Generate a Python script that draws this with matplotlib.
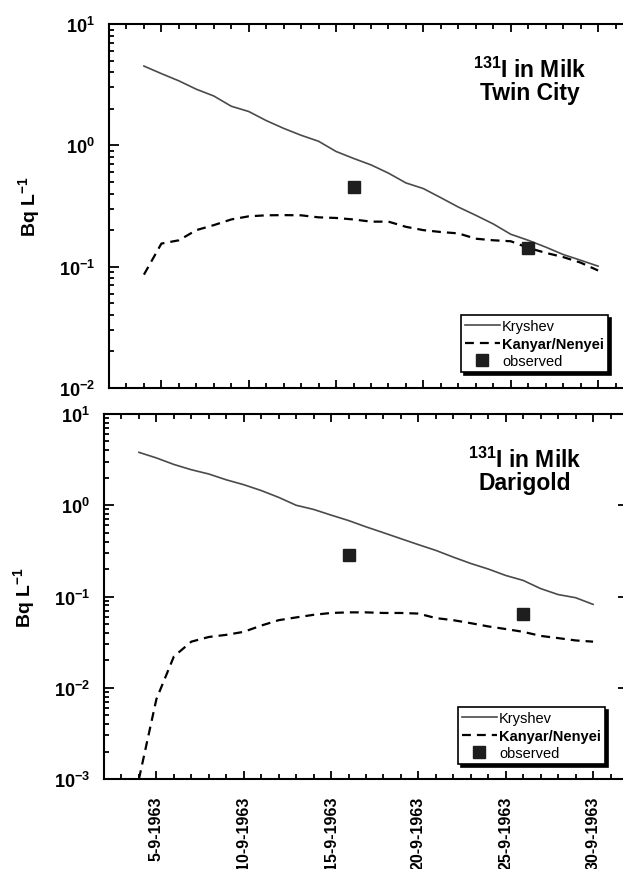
import datetime as dt
import numpy as np
import matplotlib
matplotlib.use('Agg')
import matplotlib.pyplot as plt
import matplotlib.dates as mdates
from matplotlib.ticker import LogLocator, FuncFormatter, NullFormatter

plt.rcParams['font.family'] = 'Liberation Sans'
plt.rcParams['font.weight'] = 'bold'
plt.rcParams['mathtext.fontset'] = 'custom'
plt.rcParams['mathtext.rm'] = 'Liberation Sans:bold'
plt.rcParams['mathtext.it'] = 'Liberation Sans:bold'
plt.rcParams['mathtext.bf'] = 'Liberation Sans:bold'

# day of September 1963
dias = [4, 5, 6, 7, 8, 9, 10, 11, 12, 13, 14, 15, 16, 17, 18, 19, 20,
        21, 22, 23, 24, 25, 26, 27, 28, 29, 30]

# Twin City
kryshev_tc = [4.5, 3.9, 3.4, 2.9, 2.55, 2.1, 1.9, 1.6, 1.38, 1.21, 1.08, 0.89,
              0.78, 0.69, 0.59, 0.49, 0.44, 0.37, 0.31, 0.265, 0.225, 0.185,
              0.165, 0.145, 0.126, 0.113, 0.101]
kanyar_tc = [0.086, 0.155, 0.165, 0.20, 0.22, 0.245, 0.26, 0.265, 0.266, 0.265,
             0.255, 0.252, 0.245, 0.235, 0.235, 0.213, 0.20, 0.193, 0.188, 0.17,
             0.165, 0.162, 0.143, 0.13, 0.12, 0.108, 0.093]
obs_dias_tc = [16, 26]
obs_tc = [0.45, 0.142]

# Darigold
kryshev_dg = [3.8, 3.3, 2.8, 2.45, 2.2, 1.9, 1.68, 1.45, 1.22, 1.0, 0.9, 0.78,
              0.68, 0.58, 0.5, 0.43, 0.37, 0.32, 0.27, 0.23, 0.2, 0.17, 0.15,
              0.122, 0.105, 0.097, 0.082]
kanyar_dg = [0.001, 0.0075, 0.022, 0.032, 0.036, 0.038, 0.041, 0.048, 0.055,
             0.059, 0.063, 0.066, 0.067, 0.067, 0.066, 0.066, 0.065, 0.058,
             0.055, 0.051, 0.047, 0.044, 0.041, 0.037, 0.035, 0.033, 0.032]
obs_dias_dg = [16, 26]
obs_dg = [0.288, 0.0645]

rotulos = ['Kryshev', 'Kanyar/Nenyei', 'observed']


def datas(lista):
    return [dt.datetime(1963, 9, d) for d in lista]


def fmt_data(x, pos):
    d = mdates.num2date(x)
    return '%d-%d-%d' % (d.day, d.month, d.year)


def fmt_log(v, pos):
    return '$10^{%d}$' % int(round(np.log10(v)))


def painel(fig, pos, kry, kan, od, ov, ymin, titulo, ancora, rotular_x):
    ax = fig.add_axes(pos)
    l1, = ax.plot(datas(dias), kry, color='#4a4a4a', lw=1.2)
    l2, = ax.plot(datas(dias), kan, color='k', lw=1.6, dashes=(4, 2.7))
    l3, = ax.plot(datas(od), ov, ls='none', marker='s', ms=8.5,
                  color='#1e1e1e')

    ax.set_yscale('log')
    ax.set_ylim(ymin, 10)
    ax.set_xlim(dt.datetime(1963, 9, 2), dt.datetime(1963, 10, 2))

    ax.xaxis.set_major_locator(mdates.DayLocator(bymonthday=[5, 10, 15, 20, 25, 30]))
    ax.xaxis.set_minor_locator(mdates.DayLocator(interval=1))
    ax.xaxis.set_major_formatter(FuncFormatter(fmt_data))
    ax.yaxis.set_major_locator(LogLocator(base=10))
    ax.yaxis.set_minor_locator(LogLocator(base=10, subs=range(2, 10)))
    ax.yaxis.set_major_formatter(FuncFormatter(fmt_log))
    ax.yaxis.set_minor_formatter(NullFormatter())

    ax.tick_params(which='both', direction='in', top=True, right=True, width=1.3)
    ax.tick_params(axis='x', which='major', length=6)
    ax.tick_params(axis='x', which='minor', length=3.5)
    ax.tick_params(axis='y', which='major', length=7, labelsize=13, pad=10)
    ax.tick_params(axis='y', which='minor', length=3.5)
    if rotular_x:
        ax.tick_params(axis='x', labelsize=11.5, labelrotation=90, pad=12)
    else:
        ax.tick_params(axis='x', labelbottom=False)

    for s in ax.spines.values():
        s.set_linewidth(1.5)

    ax.set_ylabel('Bq L$^{-1}$', fontsize=14, fontweight='bold')
    ax.yaxis.set_label_coords(-0.127, 0.5)

    # two-line title, anchored at the baseline of the second line
    ax.text(0.803, 1 - (100 - 25) / 364, '$^{131}$I in Milk\n' + titulo,
            transform=ax.transAxes, ha='center', va='baseline',
            multialignment='center', linespacing=0.95,
            fontsize=16.5, fontweight='bold')

    leg = ax.legend([l1, l2, l3], rotulos, loc='lower right',
                    bbox_to_anchor=ancora, bbox_transform=fig.transFigure,
                    borderaxespad=0, fancybox=False,
                    shadow={'color': 'k', 'alpha': 1}, edgecolor='k',
                    framealpha=1, prop={'size': 10.5, 'weight': 'normal'},
                    handlelength=2.4, handletextpad=0.15, labelspacing=0.22,
                    borderpad=0.28, numpoints=1)
    leg.get_frame().set_linewidth(1.2)
    leg.get_texts()[1].set_fontweight('bold')
    return ax


def main():
    fig = plt.figure(figsize=(6.23, 8.70), dpi=100)

    painel(fig, [109 / 623, 1 - 389 / 870, 524 / 623, 364 / 870],
           kryshev_tc, kanyar_tc, obs_dias_tc, obs_tc, 1e-2, 'Twin City',
           (608 / 623, 1 - 373 / 870), False)
    painel(fig, [104 / 623, 1 - 780 / 870, 524 / 623, 365 / 870],
           kryshev_dg, kanyar_dg, obs_dias_dg, obs_dg, 1e-3, 'Darigold',
           (605 / 623, 1 - 765 / 870), True)

    fig.savefig('out.png', dpi=100)


if __name__ == '__main__':
    main()
